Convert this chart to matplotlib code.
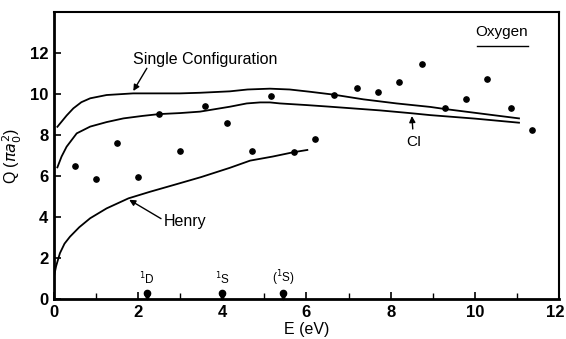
import numpy as np
import matplotlib
matplotlib.use("Agg")
import matplotlib.pyplot as plt
from matplotlib.transforms import ScaledTranslation

plt.rcParams['font.family'] = ['Liberation Sans', 'DejaVu Sans']

# measured cross sections (dots)
e_meas = [0.5, 1.0, 1.5, 2.0, 2.5, 3.0, 3.6, 4.1, 4.7, 5.15, 5.7,
          6.2, 6.65, 7.2, 7.7, 8.2, 8.75, 9.3, 9.8, 10.3, 10.85, 11.35]
q_meas = [6.5, 5.85, 7.6, 5.95, 9.0, 7.2, 9.4, 8.6, 7.2, 9.9, 7.15,
          7.8, 9.95, 10.3, 10.1, 10.6, 11.45, 9.3, 9.75, 10.75, 9.3, 8.25]

# single configuration calculation
e_sc = [0.08, 0.3, 0.46, 0.65, 0.86, 1.25, 1.88, 2.5, 2.99, 3.47, 4.18,
        4.6, 5.13, 5.6, 6.08, 6.64, 7.35, 8.14, 8.94, 9.28, 10.28, 11.05]
q_sc = [8.4, 8.95, 9.3, 9.6, 9.79, 9.95, 10.03, 10.03, 10.03, 10.06, 10.13,
        10.22, 10.26, 10.22, 10.11, 9.97, 9.74, 9.54, 9.37, 9.27, 9.01, 8.81]

# configuration interaction calculation
e_ci = [0.08, 0.18, 0.3, 0.54, 0.86, 1.25, 1.65, 2.1, 2.5, 3.0, 3.47, 4.18,
        4.58, 4.9, 5.13, 5.37, 6.0, 6.56, 7.75, 8.5, 8.94, 10.0, 11.05]
q_ci = [6.42, 6.95, 7.43, 8.08, 8.41, 8.63, 8.81, 8.93, 9.02, 9.07, 9.14, 9.38,
        9.54, 9.59, 9.59, 9.54, 9.46, 9.38, 9.2, 9.06, 8.97, 8.8, 8.6]

# Henry's curve
e_h = [0.0, 0.05, 0.14, 0.25, 0.38, 0.6, 0.86, 1.25, 1.77, 2.28, 2.91,
       3.5, 4.18, 4.66, 5.2, 5.69, 6.02]
q_h = [1.1, 1.6, 2.23, 2.7, 3.04, 3.5, 3.94, 4.42, 4.91, 5.23, 5.6,
       5.95, 6.4, 6.75, 6.95, 7.16, 7.27]

# thresholds marked on the energy axis
e_thr = [2.2, 4.0, 5.45]
thr_labels = ['$^1$D', '$^1$S', '($^1$S)']

fig = plt.figure(figsize=(5.66, 3.39), dpi=100)
ax = fig.add_axes([0.0954, 0.118, 0.8922, 0.8466])

ax.plot(e_sc, q_sc, color='black', lw=1.3)
ax.plot(e_ci, q_ci, color='black', lw=1.3)
ax.plot(e_h, q_h, color='black', lw=1.3)
ax.plot(e_meas, q_meas, 'o', color='black', ms=3.8)

for e, lab in zip(e_thr, thr_labels):
    ax.plot([e], [0.28], 'o', color='black', ms=4.5, clip_on=False)
    ax.plot([e], [0.12], 'v', color='black', ms=3.5, clip_on=False)
    ax.text(e, 0.55, lab, ha='center', va='bottom', fontsize=8.5)

arrow = dict(arrowstyle='-|>', color='black', lw=1.0, mutation_scale=9)
ax.text(3.6, 11.66, 'Single Configuration', ha='center', va='center',
        fontsize=11.5)
ax.annotate('', xy=(1.85, 10.03), xytext=(2.24, 11.37), arrowprops=arrow)
ax.text(8.54, 7.67, 'CI', ha='center', va='center', fontsize=11)
ax.annotate('', xy=(8.5, 9.06), xytext=(8.53, 8.16), arrowprops=arrow)
ax.text(3.11, 3.77, 'Henry', ha='center', va='center', fontsize=11.5)
ax.annotate('', xy=(1.73, 4.91), xytext=(2.6, 3.85), arrowprops=arrow)

ax.text(10.64, 13.04, 'Oxygen', ha='center', va='center', fontsize=11)
ax.plot([10.04, 11.27], [12.34, 12.34], color='black', lw=1.0)

ax.set_xlim(0, 12)
ax.set_ylim(0, 14)
ax.set_xticks(np.arange(0, 13, 2))
ax.set_xticks(np.arange(1, 12, 2), minor=True)
ax.set_yticks(np.arange(0, 13, 2))
ax.tick_params(direction='in', length=5, width=1.2, labelsize=12, pad=4)
ax.tick_params(which='minor', direction='in', length=4, width=1.0)
for lab in ax.get_xticklabels() + ax.get_yticklabels():
    lab.set_fontweight('bold')
# keep the last energy label inside the canvas
last = ax.get_xticklabels()[-1]
last.set_transform(last.get_transform() +
                   ScaledTranslation(-4 / 100, 0, fig.dpi_scale_trans))

for side in ['left', 'bottom']:
    ax.spines[side].set_linewidth(2.0)
for side in ['top', 'right']:
    ax.spines[side].set_linewidth(1.5)

ax.set_xlabel('E (eV)', fontsize=11.5, labelpad=2)
ax.set_ylabel('Q ($\\pi a_0^2$)', fontsize=11.5, labelpad=4)

fig.savefig('out.png', dpi=100)
